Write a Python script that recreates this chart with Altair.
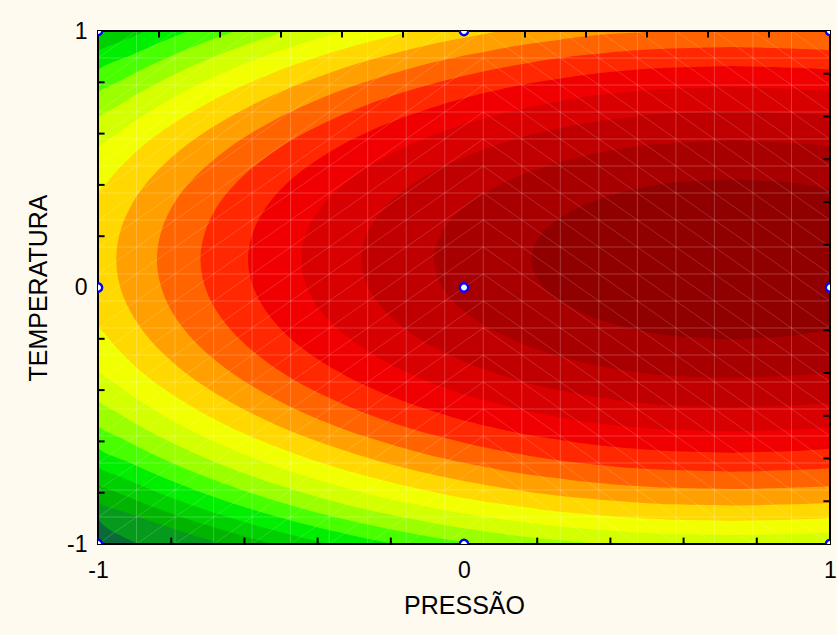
import altair as alt
import pandas as pd

# ---------------- data ----------------
# colour of each response band, lowest (dark green) to highest (dark red)
BAND_COLORS = ["#0a6b38", "#069a1c", "#00b400", "#00d000", "#00ee00", "#48ff00",
               "#9cff00", "#d4ff00", "#f2ff00", "#ffd800", "#ffa000", "#ff6400",
               "#ff2800", "#f00000", "#d80000", "#c00000", "#a80000", "#900000"]

# region where the response reaches band k: (TEMPERATURA, PRESSÃO left edge, PRESSÃO right edge)
LEVEL_00 = [(-1.0, -1.0, 1.0), (1.0, -1.0, 1.0)]
LEVEL_01 = [(-1.0, -0.89, 1.0), (-0.893, -1.0, 1.0), (1.0, -1.0, 1.0)]
LEVEL_02 = [(-1.0, -0.66, 1.0), (-0.97, -0.73, 1.0), (-0.94, -0.796, 1.0), (-0.89, -0.896, 1.0),
            (-0.831, -1.0, 1.0), (1.0, -1.0, 1.0)]
LEVEL_03 = [(-1.0, -0.523, 1.0), (-0.97, -0.601, 1.0), (-0.94, -0.673, 1.0), (-0.89, -0.781, 1.0),
            (-0.79, -0.962, 1.0), (-0.767, -1.0, 1.0), (0.987, -1.0, 1.0), (1.0, -0.979, 1.0)]
LEVEL_04 = [(-1.0, -0.370, 1.0), (-0.97, -0.458, 1.0), (-0.94, -0.538, 1.0), (-0.89, -0.656, 1.0),
            (-0.79, -0.852, 1.0), (-0.74, -0.935, 1.0), (-0.697, -1.0, 1.0), (0.917, -1.0, 1.0),
            (0.96, -0.935, 1.0), (1.0, -0.870, 1.0)]
LEVEL_05 = [(-1.0, -0.192, 1.0), (-0.97, -0.295, 1.0), (-0.94, -0.387, 1.0), (-0.89, -0.519, 1.0),
            (-0.79, -0.734, 1.0), (-0.74, -0.823, 1.0), (-0.69, -0.902, 1.0), (-0.62, -1.0, 1.0),
            (0.84, -1.0, 1.0), (0.91, -0.902, 1.0), (0.96, -0.823, 1.0), (1.0, -0.753, 1.0)]
LEVEL_06 = [(-1.0, 0.031, 1.0), (-0.97, -0.101, 1.0), (-0.94, -0.211, 1.0), (-0.89, -0.366, 1.0),
            (-0.79, -0.605, 1.0), (-0.74, -0.702, 1.0), (-0.69, -0.788, 1.0), (-0.59, -0.933, 1.0),
            (-0.534, -1.0, 1.0), (0.754, -1.0, 1.0), (0.81, -0.933, 1.0), (0.91, -0.788, 1.0),
            (0.96, -0.702, 1.0), (1.0, -0.626, 1.0)]
LEVEL_07 = [(-1.0, 0.372, 1.0), (-0.97, 0.156, 1.0), (-0.94, 0.005, 1.0), (-0.89, -0.186, 1.0),
            (-0.79, -0.462, 1.0), (-0.74, -0.570, 1.0), (-0.69, -0.664, 1.0), (-0.59, -0.820, 1.0),
            (-0.49, -0.944, 1.0), (-0.436, -1.0, 1.0), (0.656, -1.0, 1.0), (0.71, -0.944, 1.0),
            (0.81, -0.820, 1.0), (0.91, -0.664, 1.0), (0.96, -0.570, 1.0), (1.0, -0.485, 1.0)]
LEVEL_08 = [(-0.965, 0.731, 0.731), (-0.96, 0.543, 0.919), (-0.954, 0.462, 1.0), (-0.94, 0.324, 1.0),
            (-0.92, 0.190, 1.0), (-0.89, 0.038, 1.0), (-0.84, -0.152, 1.0), (-0.79, -0.300, 1.0),
            (-0.74, -0.423, 1.0), (-0.69, -0.528, 1.0), (-0.59, -0.699, 1.0), (-0.49, -0.832, 1.0),
            (-0.39, -0.937, 1.0), (-0.314, -1.0, 1.0), (0.534, -1.0, 1.0), (0.61, -0.937, 1.0),
            (0.71, -0.832, 1.0), (0.81, -0.699, 1.0), (0.91, -0.528, 1.0), (0.96, -0.423, 1.0),
            (1.0, -0.326, 1.0)]
LEVEL_09 = [(-0.909, 0.731, 0.731), (-0.905, 0.569, 0.893), (-0.898, 0.462, 1.0), (-0.89, 0.386, 1.0),
            (-0.84, 0.084, 1.0), (-0.79, -0.107, 1.0), (-0.74, -0.254, 1.0), (-0.69, -0.375, 1.0),
            (-0.59, -0.567, 1.0), (-0.49, -0.712, 1.0), (-0.39, -0.825, 1.0), (-0.29, -0.911, 1.0),
            (-0.19, -0.975, 1.0), (-0.14, -1.0, 1.0), (0.36, -1.0, 1.0), (0.41, -0.975, 1.0),
            (0.51, -0.911, 1.0), (0.61, -0.825, 1.0), (0.71, -0.712, 1.0), (0.81, -0.567, 1.0),
            (0.91, -0.375, 1.0), (0.96, -0.254, 1.0), (1.0, -0.139, 1.0)]
LEVEL_10 = [(-0.850, 0.731, 0.731), (-0.845, 0.563, 0.899), (-0.837, 0.462, 1.0), (-0.82, 0.316, 1.0),
            (-0.79, 0.147, 1.0), (-0.74, -0.050, 1.0), (-0.69, -0.198, 1.0), (-0.59, -0.419, 1.0),
            (-0.49, -0.581, 1.0), (-0.39, -0.704, 1.0), (-0.29, -0.797, 1.0), (-0.19, -0.866, 1.0),
            (-0.09, -0.913, 1.0), (0.01, -0.941, 1.0), (0.11, -0.950, 1.0), (0.21, -0.941, 1.0),
            (0.31, -0.913, 1.0), (0.41, -0.866, 1.0), (0.51, -0.797, 1.0), (0.61, -0.704, 1.0),
            (0.71, -0.581, 1.0), (0.81, -0.419, 1.0), (0.91, -0.198, 1.0), (0.96, -0.050, 1.0),
            (1.0, 0.102, 1.0)]
LEVEL_11 = [(-0.786, 0.731, 0.731), (-0.78, 0.543, 0.918), (-0.773, 0.462, 1.0), (-0.74, 0.232, 1.0),
            (-0.69, 0.023, 1.0), (-0.59, -0.250, 1.0), (-0.49, -0.436, 1.0), (-0.39, -0.572, 1.0),
            (-0.29, -0.674, 1.0), (-0.19, -0.749, 1.0), (-0.09, -0.800, 1.0), (0.01, -0.829, 1.0),
            (0.11, -0.839, 1.0), (0.21, -0.829, 1.0), (0.31, -0.800, 1.0), (0.41, -0.749, 1.0),
            (0.51, -0.674, 1.0), (0.61, -0.572, 1.0), (0.71, -0.436, 1.0), (0.81, -0.250, 1.0),
            (0.91, 0.023, 1.0), (0.96, 0.232, 1.0), (0.993, 0.462, 1.0), (1.0, 0.58, 1.0)]
LEVEL_12 = [(-0.718, 0.731, 0.731), (-0.71, 0.528, 0.934), (-0.704, 0.462, 1.0), (-0.69, 0.356, 1.0),
            (-0.64, 0.116, 1.0), (-0.59, -0.044, 1.0), (-0.54, -0.168, 1.0), (-0.49, -0.269, 1.0),
            (-0.39, -0.426, 1.0), (-0.29, -0.539, 1.0), (-0.19, -0.621, 1.0), (-0.09, -0.677, 1.0),
            (0.01, -0.709, 1.0), (0.11, -0.720, 1.0), (0.21, -0.709, 1.0), (0.31, -0.677, 1.0),
            (0.41, -0.621, 1.0), (0.51, -0.539, 1.0), (0.61, -0.426, 1.0), (0.71, -0.269, 1.0),
            (0.76, -0.168, 1.0), (0.81, -0.044, 1.0), (0.86, 0.116, 1.0), (0.91, 0.356, 1.0),
            (0.924, 0.462, 1.0), (0.93, 0.528, 0.934), (0.938, 0.731, 0.731)]
LEVEL_13 = [(-0.644, 0.731, 0.731), (-0.636, 0.541, 0.921), (-0.628, 0.462, 1.0), (-0.59, 0.241, 1.0),
            (-0.54, 0.062, 1.0), (-0.49, -0.068, 1.0), (-0.44, -0.172, 1.0), (-0.39, -0.257, 1.0),
            (-0.29, -0.388, 1.0), (-0.19, -0.481, 1.0), (-0.09, -0.542, 1.0), (0.01, -0.578, 1.0),
            (0.11, -0.590, 1.0), (0.21, -0.578, 1.0), (0.31, -0.542, 1.0), (0.41, -0.481, 1.0),
            (0.51, -0.388, 1.0), (0.61, -0.257, 1.0), (0.66, -0.172, 1.0), (0.71, -0.068, 1.0),
            (0.76, 0.062, 1.0), (0.81, 0.241, 1.0), (0.848, 0.462, 1.0), (0.856, 0.541, 0.921),
            (0.864, 0.731, 0.731)]
LEVEL_14 = [(-0.561, 0.731, 0.731), (-0.553, 0.542, 0.920), (-0.544, 0.462, 1.0), (-0.49, 0.204, 1.0),
            (-0.44, 0.057, 1.0), (-0.39, -0.054, 1.0), (-0.34, -0.142, 1.0), (-0.29, -0.213, 1.0),
            (-0.19, -0.321, 1.0), (-0.09, -0.392, 1.0), (0.01, -0.432, 1.0), (0.11, -0.445, 1.0),
            (0.21, -0.432, 1.0), (0.31, -0.392, 1.0), (0.41, -0.321, 1.0), (0.51, -0.213, 1.0),
            (0.56, -0.142, 1.0), (0.61, -0.054, 1.0), (0.66, 0.057, 1.0), (0.71, 0.204, 1.0),
            (0.764, 0.462, 1.0), (0.773, 0.542, 0.920), (0.781, 0.731, 0.731)]
LEVEL_15 = [(-0.467, 0.731, 0.731), (-0.457, 0.539, 0.923), (-0.446, 0.462, 1.0), (-0.39, 0.226, 1.0),
            (-0.34, 0.098, 1.0), (-0.29, 0.003, 1.0), (-0.24, -0.073, 1.0), (-0.19, -0.133, 1.0),
            (-0.09, -0.217, 1.0), (0.01, -0.265, 1.0), (0.11, -0.280, 1.0), (0.21, -0.265, 1.0),
            (0.31, -0.217, 1.0), (0.41, -0.133, 1.0), (0.46, -0.073, 1.0), (0.51, 0.003, 1.0),
            (0.56, 0.098, 1.0), (0.61, 0.226, 1.0), (0.666, 0.462, 1.0), (0.677, 0.539, 0.923),
            (0.687, 0.731, 0.731)]
LEVEL_16 = [(-0.354, 0.731, 0.731), (-0.341, 0.540, 0.922), (-0.328, 0.462, 1.0), (-0.29, 0.319, 1.0),
            (-0.24, 0.197, 1.0), (-0.19, 0.111, 1.0), (-0.14, 0.046, 1.0), (-0.09, -0.003, 1.0),
            (0.01, -0.063, 1.0), (0.11, -0.082, 1.0), (0.21, -0.063, 1.0), (0.31, -0.003, 1.0),
            (0.36, 0.046, 1.0), (0.41, 0.111, 1.0), (0.46, 0.197, 1.0), (0.51, 0.319, 1.0),
            (0.548, 0.462, 1.0), (0.561, 0.540, 0.922), (0.574, 0.731, 0.731)]
LEVEL_17 = [(-0.2025, 0.731, 0.731), (-0.19, 0.577, 0.885), (-0.18, 0.527, 0.935), (-0.162, 0.462, 1.0),
            (-0.14, 0.402, 1.0), (-0.09, 0.310, 1.0), (-0.04, 0.251, 1.0), (0.01, 0.212, 1.0),
            (0.06, 0.191, 1.0), (0.11, 0.184, 1.0), (0.16, 0.191, 1.0), (0.21, 0.212, 1.0),
            (0.26, 0.251, 1.0), (0.31, 0.310, 1.0), (0.36, 0.402, 1.0), (0.382, 0.462, 1.0),
            (0.40, 0.527, 0.935), (0.41, 0.577, 0.885), (0.4225, 0.731, 0.731)]

LEVELS = [LEVEL_00, LEVEL_01, LEVEL_02, LEVEL_03, LEVEL_04, LEVEL_05, LEVEL_06, LEVEL_07, LEVEL_08,
          LEVEL_09, LEVEL_10, LEVEL_11, LEVEL_12, LEVEL_13, LEVEL_14, LEVEL_15, LEVEL_16, LEVEL_17]

# experimental design points (3x3 factorial)
DESIGN_PRESSAO = [-1, -1, -1, 0, 0, 0, 1, 1, 1]
DESIGN_TEMPERATURA = [-1, 0, 1, -1, 0, 1, -1, 0, 1]

# axis labels and minor tick positions
AXIS_LABELS = [-1, 0, 1]
BOTTOM_TICKS = [-0.8, -0.6, -0.4, -0.2, 0.2, 0.4, 0.6, 0.8]
LEFT_TICKS = [-0.8, -0.6, -0.4, -0.2, 0.2, 0.4, 0.6, 0.8]
TOP_TICKS = [k / 6 for k in range(-5, 6) if k != 0]
RIGHT_TICKS = [k / 6 for k in range(-5, 6) if k != 0]

# ---------------- chart ----------------
FONT = "Liberation Sans"
xs = alt.Scale(domain=[-1, 1], nice=False, zero=False)
ys = alt.Scale(domain=[-1, 1], nice=False, zero=False)

x_axis = alt.Axis(values=AXIS_LABELS, labelExpr="'' + datum.value", tickSize=0, domain=False,
                  grid=False, labelFont=FONT, labelFontSize=23, labelColor="black",
                  labelPadding=15, labelFlush=False, labelOverlap=False,
                  title="PRESSÃO", titleFont=FONT, titleFontSize=25, titleFontWeight="normal",
                  titleColor="black", titlePadding=11)
y_axis = alt.Axis(values=AXIS_LABELS, labelExpr="'' + datum.value", tickSize=0, domain=False,
                  grid=False, labelFont=FONT, labelFontSize=23, labelColor="black",
                  labelPadding=11, labelFlush=False, labelOverlap=False,
                  title="TEMPERATURA", titleFont=FONT, titleFontSize=25, titleFontWeight="normal",
                  titleColor="black", titlePadding=15)

band_rows = []
for k, rows in enumerate(LEVELS):
    for (t, pl, pr) in rows:
        band_rows.append({"band": k, "temperatura": t, "p_left": pl, "p_right": pr})
bands = pd.DataFrame(band_rows)

layers = []
for k in range(len(LEVELS)):
    layers.append(
        alt.Chart(bands).transform_filter(alt.datum.band == k)
        .mark_area(orient="horizontal", interpolate="monotone", color=BAND_COLORS[k], opacity=1)
        .encode(y=alt.Y("temperatura:Q", scale=ys, axis=y_axis),
                x=alt.X("p_left:Q", scale=xs, axis=x_axis),
                x2="p_right:Q")
    )

# faint rendering mesh of the surface (20 x 20 nodes, one diagonal per cell)
nodes = [-1 + 2 * i / 19 for i in range(20)]
mesh = pd.DataFrame({"m": nodes})
layers.append(alt.Chart(mesh).mark_rule(color="white", opacity=0.22, strokeWidth=1)
              .encode(x=alt.X("m:Q", scale=xs, axis=x_axis)))
layers.append(alt.Chart(mesh).mark_rule(color="white", opacity=0.22, strokeWidth=1)
              .encode(y=alt.Y("m:Q", scale=ys, axis=y_axis)))
diag_rows = []
for i in range(19):
    for j in range(19):
        if i <= 9:
            diag_rows.append((nodes[i], nodes[i + 1], nodes[j], nodes[j + 1]))
        else:
            diag_rows.append((nodes[i], nodes[i + 1], nodes[j + 1], nodes[j]))
diags = pd.DataFrame(diag_rows, columns=["xa", "xb", "ya", "yb"])
layers.append(alt.Chart(diags).mark_rule(color="white", opacity=0.16, strokeWidth=1)
              .encode(x=alt.X("xa:Q", scale=xs, axis=x_axis), x2="xb:Q",
                      y=alt.Y("ya:Q", scale=ys, axis=y_axis), y2="yb:Q"))

# inward tick marks
tick_rows = []
for v in BOTTOM_TICKS:
    tick_rows.append((v, v, -1.0, -0.975))
for v in TOP_TICKS:
    tick_rows.append((v, v, 1.0, 0.975))
for v in LEFT_TICKS:
    tick_rows.append((-1.0, -0.982, v, v))
for v in RIGHT_TICKS:
    tick_rows.append((1.0, 0.982, v, v))
ticks = pd.DataFrame(tick_rows, columns=["xa", "xb", "ya", "yb"])
layers.append(alt.Chart(ticks).mark_rule(color="black", strokeWidth=2)
              .encode(x=alt.X("xa:Q", scale=xs, axis=x_axis), x2="xb:Q",
                      y=alt.Y("ya:Q", scale=ys, axis=y_axis), y2="yb:Q"))

# frame
frame = pd.DataFrame({"x0": [-1.0], "x1": [1.0], "y0": [-1.0], "y1": [1.0]})
layers.append(alt.Chart(frame).mark_rect(filled=False, stroke="black", strokeWidth=2)
              .encode(x=alt.X("x0:Q", scale=xs, axis=x_axis), x2="x1:Q",
                      y=alt.Y("y0:Q", scale=ys, axis=y_axis), y2="y1:Q"))

# design points
design = pd.DataFrame({"pressao": DESIGN_PRESSAO, "temperatura": DESIGN_TEMPERATURA})
layers.append(alt.Chart(design).mark_point(shape="circle", size=70, filled=False, fill="white",
                                            fillOpacity=1, stroke="#0000ff", strokeWidth=2.4,
                                            opacity=1, clip=True)
              .encode(x=alt.X("pressao:Q", scale=xs, axis=x_axis),
                      y=alt.Y("temperatura:Q", scale=ys, axis=y_axis)))

chart = (alt.layer(*layers)
         .properties(width=732, height=513,
                     autosize=alt.AutoSizeParams(type="none"),
                     padding={"left": 98, "top": 31, "right": 7, "bottom": 91})
         .configure(background="#fffaf0")
         .configure_view(strokeWidth=0))

chart.save("out.html", embed_options={"renderer": "svg", "actions": False})
